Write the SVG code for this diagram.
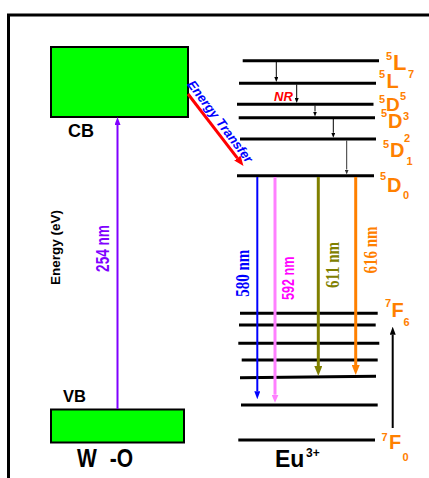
<svg xmlns="http://www.w3.org/2000/svg" width="429" height="478" viewBox="0 0 429 478">
<style>
text{font-family:"Liberation Sans",Arial,sans-serif;font-weight:bold}
.serif{font-family:"Liberation Serif","Times New Roman",serif}
.band{fill:#00FF00;stroke:#000;stroke-width:2}
.lvl{stroke:#000;stroke-width:3;fill:none}
.or{fill:#FF8000}
.big{font-size:20px}
.sm{font-size:11px}
.rot{text-anchor:middle}
.thin{stroke:#000;stroke-width:1;fill:none}
</style>
<defs>
<marker id="ahSmall" markerUnits="userSpaceOnUse" markerWidth="5" markerHeight="4" refX="0" refY="2" orient="auto"><path d="M0,0 L5,2 L0,4 z" fill="#000"/></marker>
<marker id="ahGray" markerUnits="userSpaceOnUse" markerWidth="5" markerHeight="4" refX="0" refY="2" orient="auto"><path d="M0,0 L5,2 L0,4 z" fill="#333"/></marker>
<marker id="ahPurple" markerUnits="userSpaceOnUse" markerWidth="8" markerHeight="6" refX="0" refY="3" orient="auto"><path d="M0,0 L8,3 L0,6 z" fill="#8000FF"/></marker>
<marker id="ahRed" markerUnits="userSpaceOnUse" markerWidth="10" markerHeight="8" refX="0" refY="4" orient="auto"><path d="M0,0 L10,4 L0,8 z" fill="#FF0000"/></marker>
<marker id="ahBlue" markerUnits="userSpaceOnUse" markerWidth="8" markerHeight="6" refX="0" refY="3" orient="auto"><path d="M0,0 L8,3 L0,6 z" fill="#0000FF"/></marker>
<marker id="ahPink" markerUnits="userSpaceOnUse" markerWidth="8" markerHeight="7" refX="0" refY="3.5" orient="auto"><path d="M0,0 L8,3.5 L0,7 z" fill="#FF80FF"/></marker>
<marker id="ahOlive" markerUnits="userSpaceOnUse" markerWidth="10" markerHeight="8" refX="0" refY="4" orient="auto"><path d="M0,0 L10,4 L0,8 z" fill="#808000"/></marker>
<marker id="ahOrange" markerUnits="userSpaceOnUse" markerWidth="10" markerHeight="8" refX="0" refY="4" orient="auto"><path d="M0,0 L10,4 L0,8 z" fill="#FF8000"/></marker>
<marker id="ahBlack" markerUnits="userSpaceOnUse" markerWidth="8" markerHeight="6" refX="0" refY="3" orient="auto"><path d="M0,0 L8,3 L0,6 z" fill="#000"/></marker>
</defs>

<rect x="8.5" y="15" width="500" height="500" fill="none" stroke="#000" stroke-width="3"/>

<g id="cb">
<rect class="band" x="51" y="47" width="137" height="70"/>
<text x="68" y="136.7" font-size="18">CB</text>
</g>
<g id="vb">
<rect class="band" x="51" y="409.5" width="133" height="33"/>
<text x="63" y="401.7" font-size="16.5">VB</text>
</g>
<g id="wo">
<text transform="translate(77,466.7) scale(1,1.2)" font-size="21" word-spacing="7">W -O</text>
</g>
<g id="axis-label">
<text class="rot" transform="translate(60,247.5) rotate(-90)" font-size="13.5">Energy (eV)</text>
</g>
<g id="eu">
<text x="275" y="466.7" font-size="23">Eu<tspan x="306" y="456.7" font-size="12">3+</tspan></text>
</g>

<g id="levels">
<g id="L7a"><line class="lvl" x1="242.7" y1="60.7" x2="379" y2="60.7"/>
<text class="or"><tspan class="sm" x="386" y="60">5</tspan><tspan x="393" y="70" font-size="22">L</tspan><tspan class="sm" x="408" y="78">7</tspan></text></g>
<g id="L7b"><line class="lvl" x1="239" y1="83.3" x2="376" y2="83.3"/>
<text class="or"><tspan class="sm" x="379" y="78">5</tspan><tspan class="big" x="386.5" y="88">L</tspan></text></g>
<g id="D5"><line class="lvl" x1="237" y1="104.3" x2="373.5" y2="104.3"/>
<text class="or"><tspan class="sm" x="379" y="102.5">5</tspan><tspan x="386" y="111" font-size="19">D</tspan><tspan class="sm" x="400" y="99.5">5</tspan></text></g>
<g id="D3"><line class="lvl" x1="238.7" y1="117.7" x2="375" y2="117.7"/>
<text class="or"><tspan class="sm" x="381" y="116.5">5</tspan><tspan class="big" x="388" y="128.3">D</tspan><tspan class="sm" x="403" y="120">3</tspan></text></g>
<g id="D2"><line class="lvl" x1="240" y1="139" x2="376" y2="139"/>
<text class="or"><tspan class="sm" x="383" y="148.3">5</tspan><tspan class="big" x="390" y="156.7">D</tspan><tspan class="sm" x="404" y="141.7">2</tspan><tspan class="sm" x="406.5" y="165">1</tspan></text></g>
<g id="D0"><line class="lvl" x1="237" y1="175.7" x2="374" y2="175.7"/>
<text class="or"><tspan class="sm" x="380" y="180">5</tspan><tspan class="big" x="387" y="191.7">D</tspan><tspan class="sm" x="403" y="199">0</tspan></text></g>
<g id="F6"><line class="lvl" x1="240" y1="313.3" x2="377.7" y2="313.3"/>
<text class="or"><tspan class="sm" x="385" y="306.7">7</tspan><tspan class="big" x="391.5" y="317">F</tspan><tspan class="sm" x="403.5" y="326">6</tspan></text></g>
<g id="F5"><line class="lvl" x1="239" y1="325" x2="375.7" y2="325"/></g>
<g id="F4"><line class="lvl" x1="238.3" y1="343.3" x2="379.3" y2="343.3"/></g>
<g id="F3"><line class="lvl" x1="241.7" y1="360" x2="377.7" y2="360"/></g>
<g id="F2"><line class="lvl" x1="240" y1="377.8" x2="376" y2="376.3"/></g>
<g id="F1"><line class="lvl" x1="241" y1="405" x2="377.7" y2="405"/></g>
<g id="F0"><line class="lvl" x1="238.3" y1="440" x2="375" y2="440"/>
<text class="or"><tspan class="sm" x="381.5" y="441">7</tspan><tspan class="big" x="389" y="449.3">F</tspan><tspan class="sm" x="402.5" y="460.7">0</tspan></text></g>
</g>

<g id="connectors">
<line x1="117.5" y1="409" x2="117.5" y2="125" stroke="#8000FF" stroke-width="2" marker-end="url(#ahPurple)"/>
<line x1="188" y1="94" x2="237.4" y2="158.1" stroke="#FF0000" stroke-width="3" marker-end="url(#ahRed)"/>
<line class="thin" x1="276.3" y1="62" x2="276.3" y2="77" marker-end="url(#ahSmall)"/>
<line class="thin" x1="296.7" y1="84.5" x2="296.7" y2="98" marker-end="url(#ahSmall)"/>
<line class="thin" x1="315" y1="105.5" x2="315" y2="111.5" marker-end="url(#ahSmall)"/>
<line class="thin" x1="333.3" y1="119" x2="333.3" y2="132.8" marker-end="url(#ahSmall)"/>
<line x1="346.7" y1="140.5" x2="346.7" y2="169.5" stroke="#333" stroke-width="1" marker-end="url(#ahGray)"/>
<line x1="257.3" y1="177" x2="257.3" y2="391.3" stroke="#0000FF" stroke-width="2" marker-end="url(#ahBlue)"/>
<line x1="275" y1="177" x2="275" y2="394.7" stroke="#FF80FF" stroke-width="3" marker-end="url(#ahPink)"/>
<line x1="318.3" y1="177" x2="318.3" y2="366" stroke="#808000" stroke-width="3" marker-end="url(#ahOlive)"/>
<line x1="355.7" y1="177" x2="355.7" y2="365" stroke="#FF8000" stroke-width="3" marker-end="url(#ahOrange)"/>
<line x1="392.7" y1="428" x2="392.7" y2="334.7" stroke="#000" stroke-width="2" marker-end="url(#ahBlack)"/>
</g>

<g id="labels">
<text class="rot" transform="translate(109.3,248.5) rotate(-90) scale(1,1.3)" font-size="13.6" fill="#8000FF">254 nm</text>
<text transform="translate(186.7,84.4) rotate(53)" font-size="13" font-style="italic" fill="#0000FF">Energy Transfer</text>
<text x="274" y="101" font-size="13" font-style="italic" fill="#FF0000">NR</text>
<text class="rot serif" transform="translate(249.3,273.3) rotate(-90) scale(1,1.25)" font-size="15" fill="#0000FF">580 nm</text>
<text class="rot" transform="translate(294,278.3) rotate(-90) scale(1,1.25)" font-size="12.6" fill="#FF00FF">592 nm</text>
<text class="rot serif" transform="translate(339.3,265) rotate(-90) scale(1,1.25)" font-size="15" fill="#808000">611 nm</text>
<text class="rot serif" transform="translate(376.7,250) rotate(-90) scale(1,1.25)" font-size="15" fill="#FF8000">616 nm</text>
</g>
</svg>
